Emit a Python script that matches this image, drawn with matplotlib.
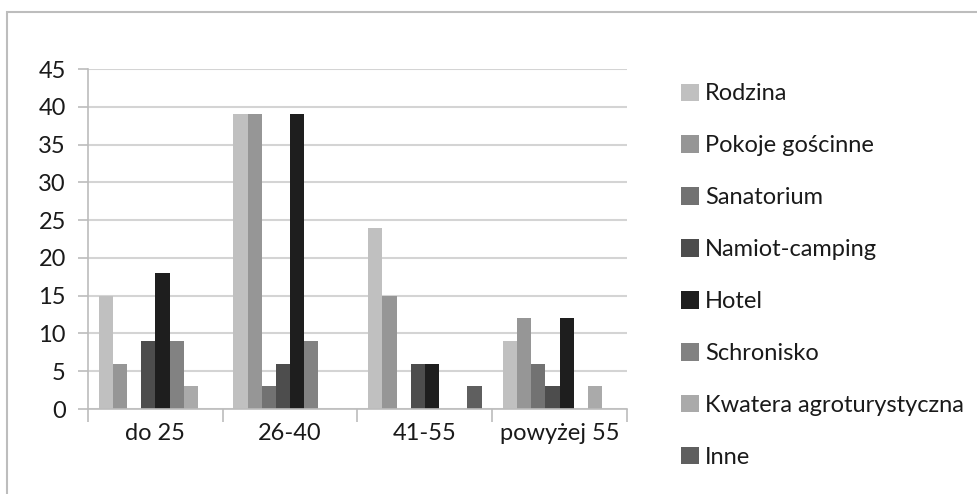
import matplotlib.pyplot as plt
import numpy as np
from matplotlib.patches import Rectangle

plt.rcParams['font.family'] = ['Lato', 'DejaVu Sans']

groups = ["do 25", "26-40", "41-55", "powyżej 55"]
series = ["Rodzina", "Pokoje gościnne", "Sanatorium", "Namiot-camping",
          "Hotel", "Schronisko", "Kwatera agroturystyczna", "Inne"]
rodzina = [15, 39, 24, 9]
pokoje = [6, 39, 15, 12]
sanatorium = [0, 3, 0, 6]
namiot = [9, 6, 6, 3]
hotel = [18, 39, 6, 12]
schronisko = [9, 9, 0, 0]
kwatera = [3, 0, 0, 3]
inne = [0, 0, 3, 0]
values = [rodzina, pokoje, sanatorium, namiot, hotel, schronisko, kwatera, inne]
colors = ["#c0c0c0", "#969696", "#727272", "#4d4d4d",
          "#1e1e1e", "#828282", "#aaaaaa", "#5f5f5f"]

fig = plt.figure(figsize=(9.78, 4.94), dpi=100)
ax = fig.add_axes([88/978, 1 - 409/494, (627-88)/978, (409-69)/494])

x = np.arange(len(groups))
n = len(series)
w = 1.0 / (n + 1.5)
for i, (vals, c, name) in enumerate(zip(values, colors, series)):
    ax.bar(x + (i - (n - 1) / 2) * w, vals, w, color=c, label=name)

ax.set_xlim(-0.5, len(groups) - 0.5)
ax.set_ylim(0, 45)
ax.set_yticks(range(0, 46, 5))
ax.yaxis.grid(True, color="#d4d4d4", linewidth=1.5)
ax.set_axisbelow(True)
for s in ["top", "right"]:
    ax.spines[s].set_visible(False)
for s in ["left", "bottom"]:
    ax.spines[s].set_color("#bcbcbc")
    ax.spines[s].set_linewidth(1.2)

ax.set_xticks(x)
ax.set_xticklabels(groups)
ax.set_xticks(np.arange(-0.5, len(groups)), minor=True)
ax.tick_params(axis="x", which="major", length=0, pad=10, labelsize=17, labelcolor="#1a1a1a")
ax.tick_params(axis="x", which="minor", length=9, color="#bcbcbc", width=1.2)
ax.tick_params(axis="y", length=7, color="#bcbcbc", width=1.2, pad=9, labelsize=17, labelcolor="#1a1a1a")

fig.legend(loc="upper left", bbox_to_anchor=(672/978, 1 - 74/494), frameon=False,
           fontsize=17, handlelength=0.75, handleheight=0.75, handletextpad=0.25,
           labelspacing=1.31, borderaxespad=0, labelcolor="#1a1a1a")

# chart frame
fig.patches.append(Rectangle((7/978, -0.1), 1.1, 1 - 12/494 + 0.1, transform=fig.transFigure,
                             fill=False, edgecolor="#bdbdbd", linewidth=1.5))

fig.savefig("out.png", dpi=100)
